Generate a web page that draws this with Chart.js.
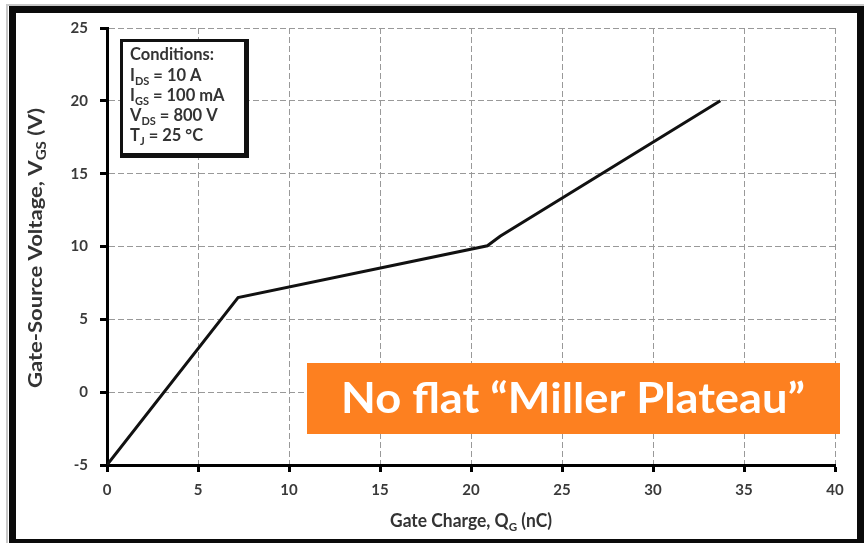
<!DOCTYPE html>
<html>
<head>
<meta charset="utf-8">
<script src="https://cdn.jsdelivr.net/npm/chart.js@4.4.1/dist/chart.umd.min.js"></script>
<style>
  html, body { margin: 0; padding: 0; background: #ffffff; }
  #wrap { width: 864px; height: 543px; }
</style>
</head>
<body>
<div id="wrap"><canvas id="qg" width="864" height="543"></canvas></div>
<script>
// Gate charge curve: V_GS vs Q_G
const gateCharge = [0, 7.2, 20.9, 21.6, 33.7];          // nC
const gateVoltage = [-5, 6.5, 10.05, 10.7, 20];          // V
const xTicks = [0, 5, 10, 15, 20, 25, 30, 35, 40];
const yTicks = [-5, 0, 5, 10, 15, 20, 25];

const xTitle = [["Gate Charge, Q"], ["G", true], [" (nC)"]];
const yTitle = [["Gate-Source Voltage, V"], ["GS", true], [" (V)"]];
const conditionLines = [
  [["Conditions:"]],
  [["I"], ["DS", true], [" = 10 A"]],
  [["I"], ["GS", true], [" = 100 mA"]],
  [["V"], ["DS", true], [" = 800 V"]],
  [["T"], ["J", true], [" = 25 °C"]]
];
const calloutText = "No flat \u201CMiller Plateau\u201D";

const FONT = "Lato, 'Open Sans', sans-serif";

function richWidth(ctx, parts, size, weight) {
  let w = 0;
  for (const [t, sub] of parts) {
    ctx.font = `${weight} ${sub ? Math.round(size * 0.68) : size}px ${FONT}`;
    w += ctx.measureText(t).width;
  }
  return w;
}
// text with subscript runs, optionally stretched to a given length
function drawRich(ctx, parts, x, y, size, weight, align, fitWidth) {
  const total = richWidth(ctx, parts, size, weight);
  const k = fitWidth ? fitWidth / total : 1;
  ctx.save();
  ctx.translate(x, y);
  ctx.scale(k, 1);
  let cx = align === 'center' ? -total / 2 : 0;
  ctx.textAlign = 'left';
  ctx.textBaseline = 'alphabetic';
  for (const [t, sub] of parts) {
    const s = sub ? Math.round(size * 0.68) : size;
    ctx.font = `${weight} ${s}px ${FONT}`;
    ctx.fillText(t, cx, sub ? size * 0.22 : 0);
    cx += ctx.measureText(t).width;
  }
  ctx.restore();
}

const decorations = {
  id: 'decorations',
  beforeDraw(chart) {
    const ctx = chart.ctx;
    ctx.save();
    ctx.fillStyle = '#ffffff';
    ctx.fillRect(0, 0, chart.width, chart.height);
    ctx.restore();
  },
  afterDraw(chart) {
    const ctx = chart.ctx;
    ctx.save();

    // axis titles
    ctx.fillStyle = '#333333';
    drawRich(ctx, xTitle, 471, 527, 18, 'bold', 'center', 162);
    ctx.save();
    ctx.translate(42, 248);
    ctx.rotate(-Math.PI / 2);
    drawRich(ctx, yTitle, 0, 0, 19, 'bold', 'center', 280);
    ctx.restore();

    // conditions box
    ctx.fillStyle = '#ffffff';
    ctx.fillRect(121, 40, 125, 116);
    ctx.fillStyle = '#111111';
    ctx.fillRect(120, 39, 128, 3);   // top
    ctx.fillRect(120, 39, 3, 119);   // left
    ctx.fillRect(244, 39, 5, 119);   // right
    ctx.fillRect(120, 153, 129, 5);  // bottom
    ctx.fillStyle = '#333333';
    const baselines = [60, 81, 101, 121, 141];
    conditionLines.forEach((ln, i) => drawRich(ctx, ln, 130, baselines[i], 16.5, 'bold', 'left'));

    // callout
    ctx.fillStyle = '#FD8020';
    ctx.fillRect(307, 363, 533, 71);
    ctx.fillStyle = '#ffffff';
    ctx.font = `bold 42px ${FONT}`;
    const w = ctx.measureText(calloutText).width;
    ctx.save();
    ctx.translate(573, 413);
    ctx.scale(464 / w, 1);
    ctx.textAlign = 'center';
    ctx.textBaseline = 'alphabetic';
    ctx.fillText(calloutText, 0, 0);
    ctx.restore();

    // outer frame
    ctx.fillStyle = '#c8c8c8';
    ctx.fillRect(6, 4, 2, 539);
    ctx.fillRect(6, 4, 858, 2);
    ctx.fillStyle = '#0a0a0a';
    ctx.fillRect(9, 6, 7, 537);
    ctx.fillRect(9, 6, 855, 7);
    ctx.fillRect(857, 6, 7, 537);
    ctx.fillRect(9, 539, 855, 4);

    ctx.restore();
  }
};

const gridStyle = {
  color: '#999999', lineWidth: 1,
  drawTicks: true, tickLength: 7, tickColor: '#000000', tickWidth: 3, tickBorderDash: []
};
const borderStyle = { display: true, color: '#000000', width: 3, dash: [6, 3] };

new Chart(document.getElementById('qg'), {
  type: 'line',
  data: {
    datasets: [{
      data: gateCharge.map((q, i) => ({ x: q, y: gateVoltage[i] })),
      borderColor: '#111111',
      borderWidth: 3,
      pointRadius: 0,
      tension: 0,
      fill: false
    }]
  },
  options: {
    responsive: false,
    animation: false,
    devicePixelRatio: 1,
    layout: { padding: { left: 0, top: 28, right: 29, bottom: 0 } },
    plugins: { legend: { display: false }, tooltip: { enabled: false } },
    scales: {
      x: {
        type: 'linear',
        min: 0, max: 40,
        afterFit(s) { s.height = 78; },
        afterBuildTicks(s) { s.ticks = xTicks.map(v => ({ value: v })); },
        border: borderStyle,
        grid: gridStyle,
        ticks: { color: '#3a3a3a', font: { family: FONT, size: 15, weight: 'bold' }, padding: 9 }
      },
      y: {
        type: 'linear',
        min: -5, max: 25,
        afterFit(s) { s.width = 107; },
        afterBuildTicks(s) { s.ticks = yTicks.map(v => ({ value: v })); },
        border: borderStyle,
        grid: gridStyle,
        ticks: { color: '#3a3a3a', font: { family: FONT, size: 15, weight: 'bold' }, padding: 12 }
      }
    }
  },
  plugins: [decorations]
});
</script>
</body>
</html>
